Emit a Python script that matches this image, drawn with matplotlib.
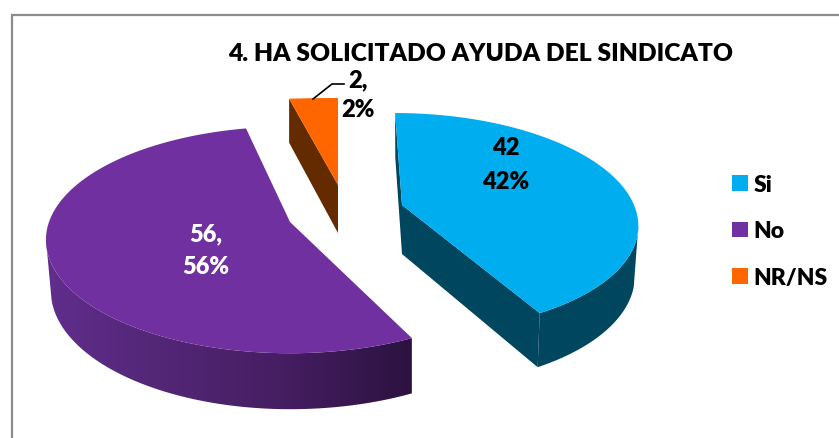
import numpy as np
import matplotlib
matplotlib.use("Agg")
import matplotlib.pyplot as plt
from matplotlib.patches import Patch, Polygon
from matplotlib.lines import Line2D

categories = ["Si", "No", "NR/NS"]
values = [42, 56, 2]
title = "4. HA SOLICITADO AYUDA DEL SINDICATO"

top_colors = {"Si": "#00AEEF", "No": "#7030A0", "NR/NS": "#FF6600"}
side_colors = {"Si": "#00465F", "NR/NS": "#652B00"}
no_side_stops = [(46, (96, 46, 140)), (150, (84, 39, 120)), (280, (70, 30, 98)), (413, (44, 18, 64))]

# per-slice projection of the tilted, exploded 3-D look (pixel space)
proj = {
    "Si": dict(ax=402, ay=206, rx=232, ry=106.4, p=.157, lean=-8, a0=0, k=1.0, sl=.97, sr=.985),
    "No": dict(ax=290, ay=223, rx=241, ry=110.5, p=.158, lean=0, a0=3.1, k=.96, sl=.98, sr=1.0),
    "NR/NS": dict(ax=338, ay=186, rx=390, ry=87, p=0, lean=0, a0=0, k=1.0, sl=1.0, sr=1.0),
}

WEIGHT = 800
plt.rcParams["font.family"] = ["Lato", "DejaVu Sans"]
fig = plt.figure(figsize=(8.39, 4.39), dpi=100)
ax = fig.add_axes([0, 0, 1, 1])
ax.set_xlim(0, 839)
ax.set_ylim(439, 0)
ax.axis("off")

# chart frame
ax.plot([11.5, 11.5, 839], [439, 15.5, 15.5], color="#8C8C8C", lw=1.6, solid_joinstyle="miter")


def project(P, theta_deg):
    t = np.radians(theta_deg)
    X, Y = np.sin(t), np.cos(t)
    w = 1 + P["p"] * Y
    return (P["rx"] * X + P["lean"] * Y) / w, -P["ry"] * Y / w


def lower(P, dx, dy):
    sy = P["ay"] + dy
    depth = 49 + .047 * (sy - 206)
    return P["ax"] + np.where(dx < 0, dx * P["sl"], dx * P["sr"]), sy + depth


cum = np.cumsum([0] + values) / sum(values) * 360


def angles(c, n=200):
    i = categories.index(c)
    P = proj[c]
    return P["a0"] + cum[i] + np.linspace(0, cum[i + 1] - cum[i], n) * P["k"]


def outer_side(tx, ty, bx, by, rightward):
    """Outline of the curved rim: top arc from its extreme, then a straight silhouette to the lower arc."""
    e = int(np.argmax(tx)) if rightward else int(np.argmin(tx))
    target = ty[e] + 60
    if rightward:
        b = e + int(np.argmax(by[e:] >= target))
        xs = np.r_[tx[e:], bx[b:][::-1]]
        ys = np.r_[ty[e:], by[b:][::-1]]
    else:
        b = int(np.argmax(by[:e][::-1] >= target))
        b = e - 1 - b
        xs = np.r_[tx[:e + 1], bx[:b + 1][::-1]]
        ys = np.r_[ty[:e + 1], by[:b + 1][::-1]]
    return xs, ys


# sides
for c in ["NR/NS", "No", "Si"]:
    P = proj[c]
    th = angles(c)
    dx, dy = project(P, th)
    bx, by = lower(P, dx, dy)
    tx, ty = P["ax"] + dx, P["ay"] + dy
    abx, aby = lower(P, np.array([0.0]), np.array([0.0]))
    if c == "No":
        xs_p, ys_p = outer_side(tx, ty, bx, by, False)
        poly = Polygon(np.c_[xs_p, ys_p], closed=True, transform=ax.transData, fc="none", ec="none")
        ax.add_patch(poly)
        xs = np.linspace(no_side_stops[0][0], no_side_stops[-1][0], 256)
        grad = np.stack([np.interp(xs, [s[0] for s in no_side_stops], [s[1][k] for s in no_side_stops]) for k in range(3)], axis=-1)
        im = ax.imshow(grad[None, :] / 255, extent=(xs[0], xs[-1], 420, 200), aspect="auto", zorder=2, interpolation="bilinear")
        im.set_clip_path(poly)
        ax.set_xlim(0, 839)
        ax.set_ylim(439, 0)
    else:
        col = side_colors[c]
        if c == "Si":
            xs_p, ys_p = outer_side(tx, ty, bx, by, True)
            ax.fill(xs_p, ys_p, color=col, lw=0, zorder=2)
        for j in (0, -1):
            ax.fill([P["ax"], tx[j], bx[j], abx[0]], [P["ay"], ty[j], by[j], aby[0]], color=col, lw=0, zorder=2)

# tops
for c in categories:
    P = proj[c]
    dx, dy = project(P, angles(c))
    ax.fill(np.r_[P["ax"], P["ax"] + dx], np.r_[P["ay"], P["ay"] + dy], color=top_colors[c], lw=0, zorder=3)

# title and labels
ax.text(481, 54, title, ha="center", va="center", fontsize=17.75, fontweight=WEIGHT, color="black")
label_pos = {"Si": (506, 148, 182), "No": (206, 234, 267), "NR/NS": (358, 80, 110)}
label_fmt = {"Si": "{}", "No": "{},", "NR/NS": "{},"}
label_col = {"Si": "black", "No": "white", "NR/NS": "black"}
for c, v in zip(categories, values):
    x, y1, y2 = label_pos[c]
    ax.text(x, y1, label_fmt[c].format(v), ha="center", va="center", fontsize=17, fontweight=WEIGHT, color=label_col[c], zorder=5)
    ax.text(x, y2, f"{v}%", ha="center", va="center", fontsize=17, fontweight=WEIGHT, color=label_col[c], zorder=5)
ax.add_line(Line2D([313, 332, 344], [100, 85, 85], color="black", lw=1.2, zorder=5))

# legend
handles = [Patch(facecolor=top_colors[c], edgecolor="none", label=c) for c in categories]
ax.legend(handles=handles, loc="center left", bbox_to_anchor=(721 / 839, 1 - 232 / 439), frameon=False,
          prop={"weight": WEIGHT, "size": 16.5}, handlelength=.66, handleheight=.66, handletextpad=.25,
          labelspacing=1.12, borderpad=0, borderaxespad=0.5)

fig.savefig("out.png", dpi=100)
